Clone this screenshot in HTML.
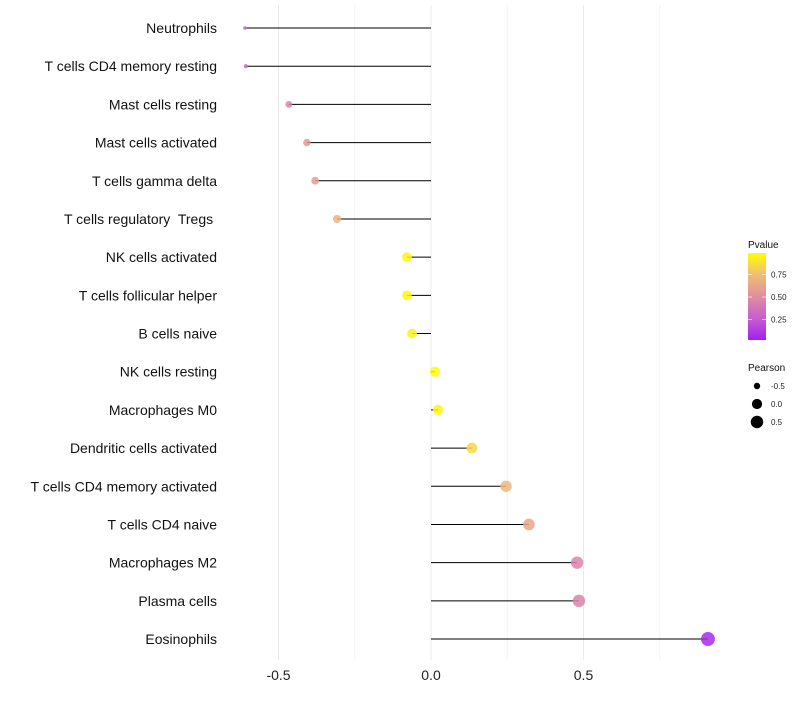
<!DOCTYPE html>
<html><head><meta charset="utf-8"><style>
body{margin:0;background:#fff;font-family:"Liberation Sans",sans-serif}
text{white-space:pre}
</style></head><body>
<svg id="c" width="800" height="700" xmlns="http://www.w3.org/2000/svg"></svg>
<script>
const categories=["Neutrophils","T cells CD4 memory resting","Mast cells resting","Mast cells activated","T cells gamma delta","T cells regulatory  Tregs ","NK cells activated","T cells follicular helper","B cells naive","NK cells resting","Macrophages M0","Dendritic cells activated","T cells CD4 memory activated","T cells CD4 naive","Macrophages M2","Plasma cells","Eosinophils"];
const pearson=[-0.61,-0.607,-0.466,-0.407,-0.38,-0.308,-0.079,-0.079,-0.062,0.013,0.023,0.134,0.246,0.321,0.479,0.485,0.908];
const pvalue=[0.3,0.3,0.45,0.55,0.58,0.7,0.97,0.97,0.95,0.99,0.97,0.86,0.72,0.64,0.45,0.45,0.05];
const xTicks=[-0.5,0,0.5];
const xMinor=[-0.25,0.25,0.75];
const legendSizes=[-0.5,0,0.5];
const cbTicks=[0.25,0.5,0.75];

const svg=document.getElementById('c');
const NS='http://www.w3.org/2000/svg';
const X=v=>431+v*305;
const Y=i=>28+i*38.19;
const R=v=>1.8+5.2*Math.sqrt(Math.max(0,(v+0.61)/1.52));
const stops=[[160,32,240],[200,94,208],[223,142,160],[239,189,120],[255,255,0]];
function col(p){p=Math.max(0,Math.min(1,p));const t=p*4,i=Math.min(3,Math.floor(t)),f=t-i;const a=stops[i],b=stops[i+1];return `rgb(${a.map((v,k)=>Math.round(v+(b[k]-v)*f)).join(',')})`;}
function el(t,a,txt){const e=document.createElementNS(NS,t);for(const k in a)e.setAttribute(k,a[k]);if(txt!==undefined)e.textContent=txt;svg.appendChild(e);return e;}

xMinor.forEach(v=>{const g=el('line',{x1:X(v),x2:X(v),y1:5,y2:660,stroke:'#f3f3f3','stroke-width':1});

});
xTicks.forEach(v=>{const g=el('line',{x1:X(v),x2:X(v),y1:5,y2:660,stroke:'#ebebeb','stroke-width':1});


const t=el('text',{x:X(v),y:680,'text-anchor':'middle','font-size':14,fill:'#222'},v===0?'0.0':String(v));

});

categories.forEach((c,i)=>{
const t=el('text',{x:217,y:Y(i)+5,'text-anchor':'end','font-size':14,fill:'#111'},c);


const l=el('line',{x1:X(0),x2:X(pearson[i]),y1:Y(i),y2:Y(i),stroke:'#000','stroke-width':1});


const d=el('circle',{cx:X(pearson[i]),cy:Y(i),r:R(pearson[i]),fill:col(pvalue[i]),'fill-opacity':0.85});


});

const defs=el('defs',{});
const lg=document.createElementNS(NS,'linearGradient');lg.setAttribute('id','g');lg.setAttribute('x1',0);lg.setAttribute('x2',0);lg.setAttribute('y1',1);lg.setAttribute('y2',0);
stops.forEach((s,k)=>{const st=document.createElementNS(NS,'stop');st.setAttribute('offset',k/4);st.setAttribute('stop-color',`rgb(${s})`);lg.appendChild(st);});
defs.appendChild(lg);
const lt=el('text',{x:748,y:248,'font-size':10,fill:'#111'},'Pvalue');


const cb=el('rect',{x:748,y:253,width:18,height:87,fill:'url(#g)'});


const cbY=p=>342-p*90;
cbTicks.forEach(p=>{const t=el('text',{x:771,y:cbY(p)+3,'font-size':8,fill:'#222'},p.toFixed(2));


el('line',{x1:748,x2:752,y1:cbY(p),y2:cbY(p),stroke:'#fff','stroke-opacity':0.6});el('line',{x1:762,x2:766,y1:cbY(p),y2:cbY(p),stroke:'#fff','stroke-opacity':0.6});});
const st=el('text',{x:748,y:371,'font-size':10,fill:'#111'},'Pearson');


legendSizes.forEach((v,k)=>{const y=386+k*18;
const c=el('circle',{cx:757,cy:y,r:R(v),fill:'#000'});


const t=el('text',{x:771,y:y+3,'font-size':8,fill:'#222'},v===0?'0.0':String(v));

});
</script>
</body></html>
